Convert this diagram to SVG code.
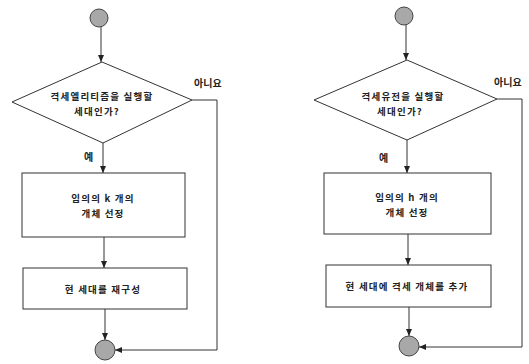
<svg xmlns="http://www.w3.org/2000/svg" width="529" height="364" viewBox="0 0 529 364">
<style>
.ln{fill:none;stroke:#333;stroke-width:1}
.nd{fill:#fff;stroke:#333;stroke-width:1}
.cir{fill:#a8a8a8;stroke:#444;stroke-width:1}
.t{font-family:"Noto Sans CJK KR","Noto Sans",sans-serif;font-size:9.5px;font-weight:bold;fill:#222;text-anchor:middle;letter-spacing:1.2px}
.lb{font-family:"Noto Sans CJK KR","Noto Sans",sans-serif;font-size:10px;font-weight:bold;fill:#222}
</style>
<defs>
<marker id="ah" markerWidth="8" markerHeight="8" refX="7" refY="4" orient="auto" markerUnits="userSpaceOnUse">
<path d="M0,1 L7,4 L0,7 Z" fill="#222"/>
</marker>
</defs>
<rect width="529" height="364" fill="#fff"/>
<g id="connectors">
<line class="ln" x1="101" y1="27" x2="101" y2="62" marker-end="url(#ah)"/>
<line class="ln" x1="103" y1="143" x2="103" y2="173" marker-end="url(#ah)"/>
<line class="ln" x1="104" y1="237" x2="104" y2="268" marker-end="url(#ah)"/>
<line class="ln" x1="105" y1="309" x2="105" y2="340" marker-end="url(#ah)"/>
<polyline class="ln" points="192,100 217,100 217,350 115,350" marker-end="url(#ah)"/>
<line class="ln" x1="406" y1="25" x2="406" y2="60" marker-end="url(#ah)"/>
<line class="ln" x1="407" y1="140" x2="407" y2="173" marker-end="url(#ah)"/>
<line class="ln" x1="408" y1="234" x2="408" y2="265" marker-end="url(#ah)"/>
<line class="ln" x1="409" y1="307" x2="409" y2="336" marker-end="url(#ah)"/>
<polyline class="ln" points="497,99 522,99 522,347 419,347" marker-end="url(#ah)"/>
</g>
<g id="start1"><circle class="cir" cx="99" cy="18" r="9"/></g>
<g id="decision1">
<polygon class="nd" points="102,62 192,100 103,143 12,102"/>
<text class="t" x="102" y="100">격세엘리티즘을 실행할</text>
<text class="t" x="97" y="114.5">세대인가?</text>
</g>
<g id="label-no1"><text class="lb" x="194" y="87">아니요</text></g>
<g id="label-yes1"><text class="lb" x="84" y="161">예</text></g>
<g id="box1a">
<rect class="nd" x="22" y="173" width="163" height="64"/>
<text class="t" x="103" y="202">임의의 k 개의</text>
<text class="t" x="103" y="216.5">개체 선정</text>
</g>
<g id="box1b">
<rect class="nd" x="23" y="268" width="164" height="41"/>
<text class="t" x="103" y="293">현 세대를 재구성</text>
</g>
<g id="end1"><circle class="cir" cx="105" cy="350" r="10"/></g>
<g id="start2"><circle class="cir" cx="404" cy="16" r="9"/></g>
<g id="decision2">
<polygon class="nd" points="407,60 497,99 407,140 314,100"/>
<text class="t" x="403" y="100">격세유전을 실행할</text>
<text class="t" x="400" y="114.5">세대인가?</text>
</g>
<g id="label-no2"><text class="lb" x="494" y="86">아니요</text></g>
<g id="label-yes2"><text class="lb" x="379" y="162">예</text></g>
<g id="box2a">
<rect class="nd" x="324" y="173" width="167" height="61"/>
<text class="t" x="407" y="201">임의의 h 개의</text>
<text class="t" x="407" y="215.5">개체 선정</text>
</g>
<g id="box2b">
<rect class="nd" x="326" y="265" width="165" height="42"/>
<text class="t" x="407" y="290">현 세대에 격세 개체를 추가</text>
</g>
<g id="end2"><circle class="cir" cx="409" cy="346" r="10"/></g>
</svg>
